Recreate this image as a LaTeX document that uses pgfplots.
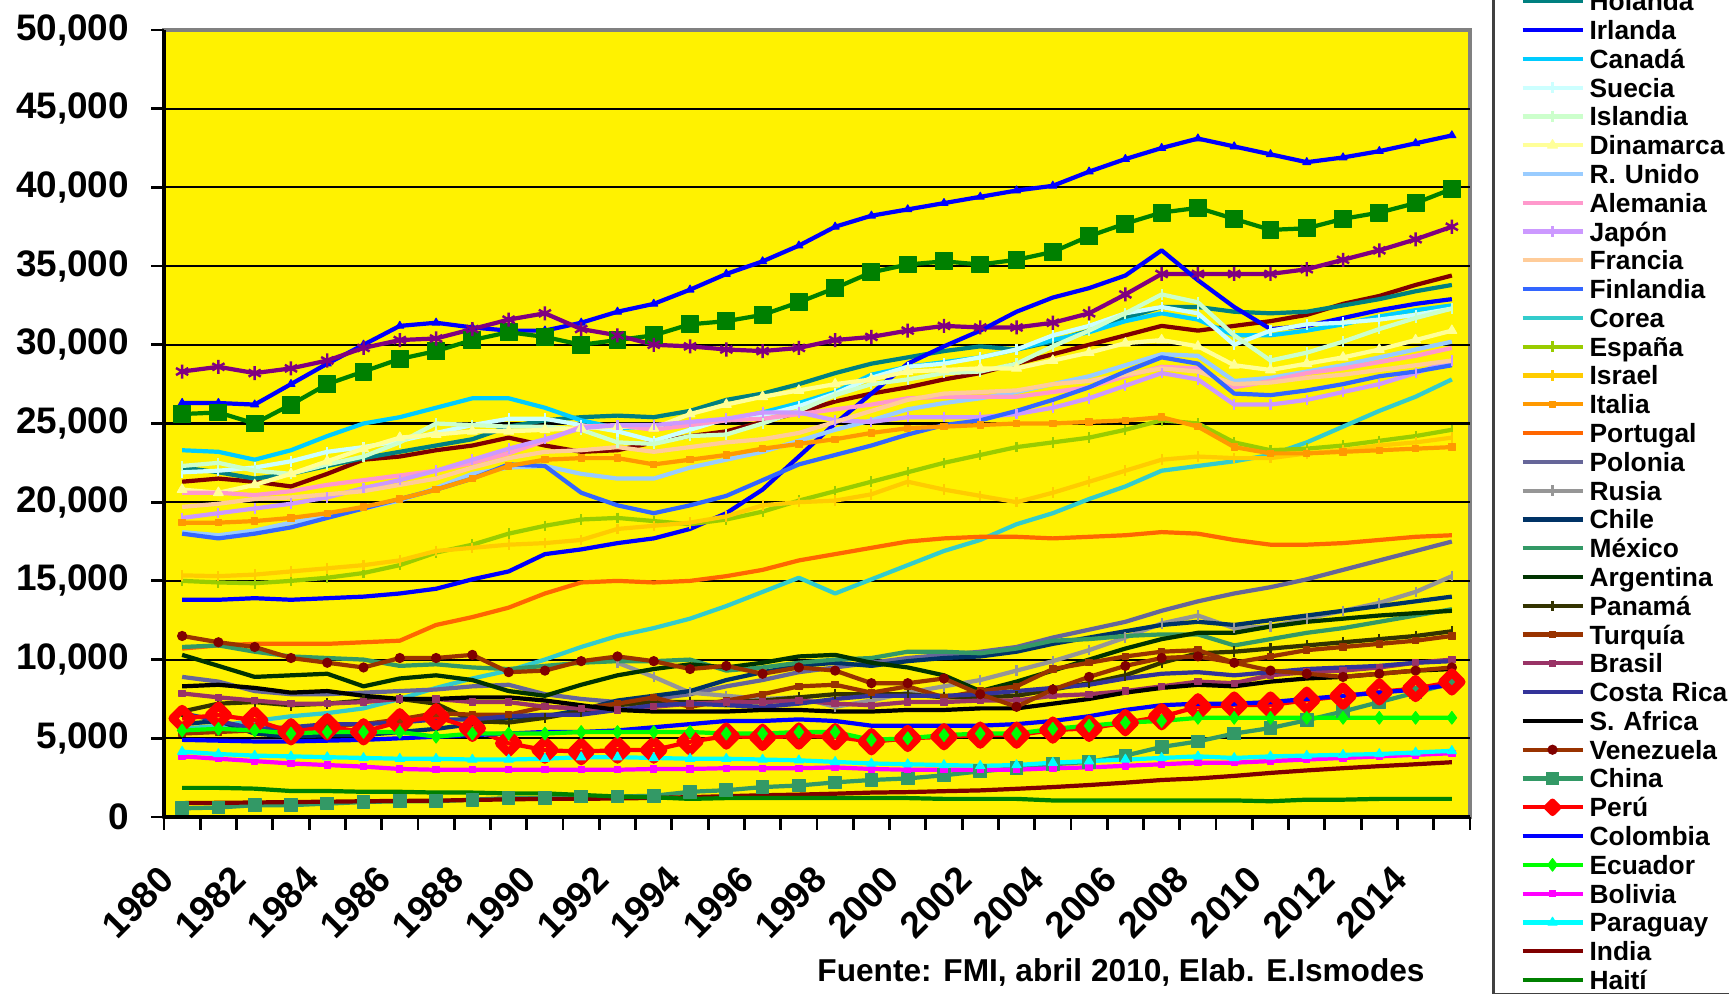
\documentclass[border=0pt]{standalone}
\usepackage{fontspec}
\setmainfont{Liberation Sans}
\usepackage{pgfplots}
\usepackage{pgfplotstable}
\pgfplotsset{compat=1.18}

% colours of the series
\definecolor{cUSA}{RGB}{0,0,255}
\definecolor{cGRN}{RGB}{0,128,0}
\definecolor{cPUR}{RGB}{128,0,128}
\definecolor{cMAR}{RGB}{128,0,0}
\definecolor{cHOL}{RGB}{0,128,128}
\definecolor{cIRL}{RGB}{0,0,255}
\definecolor{cCAN}{RGB}{0,204,255}
\definecolor{cSUE}{RGB}{204,255,255}
\definecolor{cISL}{RGB}{204,255,204}
\definecolor{cDIN}{RGB}{255,255,153}
\definecolor{cRUN}{RGB}{153,204,255}
\definecolor{cALE}{RGB}{255,153,204}
\definecolor{cJAP}{RGB}{204,153,255}
\definecolor{cFRA}{RGB}{255,204,153}
\definecolor{cFIN}{RGB}{51,102,255}
\definecolor{cCOR}{RGB}{51,204,204}
\definecolor{cESP}{RGB}{153,204,0}
\definecolor{cISR}{RGB}{255,204,0}
\definecolor{cITA}{RGB}{255,153,0}
\definecolor{cPOR}{RGB}{255,102,0}
\definecolor{cPOL}{RGB}{102,102,153}
\definecolor{cRUS}{RGB}{150,150,150}
\definecolor{cCHI}{RGB}{0,51,102}
\definecolor{cMEX}{RGB}{51,153,102}
\definecolor{cARG}{RGB}{0,51,0}
\definecolor{cPAN}{RGB}{51,51,0}
\definecolor{cTUR}{RGB}{153,51,0}
\definecolor{cBRA}{RGB}{153,51,102}
\definecolor{cCRI}{RGB}{51,51,153}
\definecolor{cSAF}{RGB}{0,0,0}
\definecolor{cCHN}{RGB}{51,153,102}
\definecolor{cPER}{RGB}{255,0,0}
\definecolor{cCOL}{RGB}{0,0,255}
\definecolor{cECU}{RGB}{0,255,0}
\definecolor{cBOL}{RGB}{255,0,255}
\definecolor{cPAR}{RGB}{0,255,255}
\definecolor{cIND}{RGB}{128,0,0}
\definecolor{cHAI}{RGB}{0,128,0}

% one row per series, one column per year
\pgfplotstableread{
name 1980 1981 1982 1983 1984 1985 1986 1987 1988 1989 1990 1991 1992 1993 1994 1995 1996 1997 1998 1999 2000 2001 2002 2003 2004 2005 2006 2007 2008 2009 2010 2011 2012 2013 2014 2015
usa 26300 26300 26200 27500 28800 30000 31200 31400 31100 30900 30900 31400 32100 32600 33500 34500 35300 36300 37500 38200 38600 39000 39400 39800 40100 41000 41800 42500 43100 42600 42100 41600 41900 42300 42800 43300
grn 25600 25700 25000 26200 27500 28300 29100 29600 30300 30800 30500 30000 30300 30600 31300 31500 31900 32700 33600 34600 35100 35300 35100 35400 35900 36900 37700 38400 38700 38000 37300 37400 38000 38400 39000 39900
pur 28300 28600 28200 28500 29000 29800 30300 30400 31000 31600 32000 31000 30600 30000 29900 29700 29600 29800 30300 30500 30900 31200 31100 31100 31400 32000 33200 34500 34500 34500 34500 34800 35400 36000 36700 37500
mar 21300 21500 21300 21000 21800 22700 22900 23300 23600 24100 23600 23200 23300 23800 24200 24500 25100 25700 26400 26900 27300 27800 28200 28800 29400 30000 30600 31200 30900 31200 31500 31900 32600 33100 33800 34400
hol 22200 21900 21500 21800 22300 22800 23200 23600 24000 24800 25200 25400 25500 25400 25800 26500 26900 27500 28200 28800 29200 29600 29900 29700 30200 30900 31700 32400 32400 32100 32000 32100 32500 32900 33400 33800
irl 13800 13800 13900 13800 13900 14000 14200 14500 15100 15600 16700 17000 17400 17700 18300 19300 20800 22900 25000 26900 28800 29900 30900 32100 33000 33600 34400 36000 34100 32400 31000 31200 31700 32200 32600 32900
can 23300 23200 22700 23300 24200 25000 25400 26000 26600 26600 26000 25200 24700 24800 25000 25200 25700 26300 27000 28100 28600 28900 29200 29700 30300 30800 31500 32000 31600 30600 30600 30900 31300 31800 32200 32500
sue 21900 22000 22200 22600 23200 23500 23900 24400 24900 25300 25300 24900 24500 23900 24600 25300 25500 26100 26900 27900 28600 28800 29200 29700 30600 31200 32000 32400 32000 30000 30900 31300 31400 31600 31900 32300
isl 22300 22500 22000 21800 22400 22900 23800 25000 24900 24800 24800 24600 23800 23700 24200 24300 25000 25800 26800 27500 27800 28200 28300 28800 29900 30900 32000 33200 32700 30600 29000 29500 30200 31000 31700 32300
din 20800 20600 21100 21800 22600 23400 24100 24300 24500 24500 24600 24700 24800 24700 25600 26200 26700 27100 27500 27800 28300 28400 28500 28500 29000 29500 30100 30300 29900 28700 28400 28800 29200 29700 30300 30900
run 18100 17900 18200 18700 19100 19600 20100 20900 21800 22200 22300 21800 21500 21500 22200 22700 23200 23900 24600 25200 25900 26300 26600 27000 27500 28000 28700 29400 29300 27700 27900 28300 28700 29200 29700 30200
ale 20600 20600 20450 20700 21100 21400 21700 22000 22500 23100 23900 24800 24900 24600 24900 25200 25300 25600 25900 26200 26600 26700 26700 26700 27000 27300 28000 28600 28500 27300 27700 28200 28500 28900 29300 29800
jap 19000 19300 19600 19900 20300 20900 21400 22000 22700 23400 24000 24700 24900 24900 25100 25300 25700 25700 25200 25100 25400 25400 25400 25600 26000 26600 27400 28200 27800 26200 26200 26500 27000 27500 28200 29000
fra 19700 19900 20200 20300 20500 20700 21100 21500 22200 22800 23200 23300 23500 23200 23500 23800 24000 24400 25100 25800 26500 26900 27000 27100 27500 27700 28100 28500 28300 27500 27600 27900 28100 28400 28700 29000
fin 18000 17700 18000 18400 19000 19600 20200 20800 21500 22400 22300 20600 19800 19300 19800 20400 21400 22400 23000 23600 24300 24900 25200 25800 26500 27300 28300 29200 28800 26900 26800 27100 27500 28000 28300 28700
cor 5600 5800 6100 6400 6600 6900 7500 8200 8800 9300 10000 10800 11500 12000 12600 13400 14300 15200 14200 15100 16000 16900 17600 18600 19300 20200 21000 22000 22300 22600 23000 23800 24800 25800 26700 27800
esp 15000 14900 14850 15000 15200 15500 16000 16800 17300 18000 18500 18900 19000 18800 18600 18900 19400 20100 20700 21300 21900 22500 23000 23500 23800 24100 24600 25200 25000 23800 23300 23400 23600 23900 24200 24600
isr 15350 15300 15400 15600 15800 16000 16300 16900 17100 17300 17400 17600 18300 18500 18700 19100 19800 20000 20100 20500 21300 20800 20400 20000 20600 21300 22000 22700 22900 22800 22800 23100 23300 23600 23800 24100
ita 18700 18700 18800 19000 19300 19700 20200 20800 21500 22300 22700 22800 22800 22400 22700 23000 23400 23700 24000 24400 24700 24800 24900 25000 25000 25100 25200 25400 24800 23500 23100 23100 23200 23300 23400 23500
por 10700 10900 11000 11000 11000 11100 11200 12200 12700 13300 14200 14900 15000 14900 15000 15300 15700 16300 16700 17100 17500 17700 17800 17800 17700 17800 17900 18100 18000 17600 17300 17300 17400 17600 17800 17900
pol 8900 8600 8000 7800 7800 7900 8000 8100 8300 8400 7800 7500 7300 7500 7800 8300 8700 9200 9500 9800 10100 10300 10500 10800 11400 11900 12400 13100 13700 14200 14600 15100 15700 16300 16900 17500
rus nan nan nan nan nan nan nan nan nan nan nan nan 9800 8900 7900 7700 7500 7600 7000 7400 7900 8300 8700 9300 9900 10600 11400 12300 12800 12000 12100 12600 13100 13600 14300 15300
chi 5900 6100 5300 5100 5200 5200 5400 5600 5900 6300 6400 6800 7400 7700 8000 8700 9200 9600 9800 9600 9900 10100 10200 10500 11000 11400 11800 12200 12400 12200 12500 12800 13100 13400 13700 14000
mex 10800 10900 10500 10200 10100 10000 9600 9700 9500 9400 9600 9800 9900 9900 10000 9300 9500 9800 10000 10100 10500 10500 10400 10700 11200 11300 11500 11600 11600 10900 11300 11700 12000 12400 12800 13200
arg 10300 9600 8900 9000 9100 8300 8800 9000 8700 8000 7700 8400 9000 9400 9700 9500 9800 10200 10300 9800 9500 9000 8000 8600 9300 10000 10700 11300 11700 11700 12100 12400 12600 12800 12950 13100
pan 6700 7200 7300 7100 7200 7400 7500 7200 6100 6000 6300 6700 7100 7300 7300 7300 7400 7600 7800 7800 7800 7600 7600 7700 8100 8500 9000 9800 10400 10500 10700 10900 11100 11300 11500 11800
tur 5300 5400 5500 5600 5800 5900 6200 6600 6500 6500 7000 6900 7200 7600 7000 7400 7800 8300 8400 7900 8300 7600 8000 8300 9400 9800 10200 10500 10600 9800 10200 10600 10800 11000 11200 11500
bra 7850 7600 7400 7200 7200 7300 7500 7500 7300 7300 7000 6900 6800 7000 7200 7300 7300 7400 7200 7100 7300 7300 7400 7400 7700 7800 8000 8300 8600 8500 9000 9200 9300 9500 9800 10000
cri 6600 6100 5600 5700 5900 5900 6000 6200 6200 6400 6500 6500 6800 7100 7200 7100 7000 7200 7500 7700 7700 7700 7800 8000 8200 8400 8800 9100 9200 9000 9200 9400 9500 9600 9800 9900
saf 8300 8400 8200 7900 8000 7700 7500 7500 7600 7600 7400 7100 6800 6700 6700 6700 6800 6800 6700 6700 6800 6800 6900 6900 7200 7500 7900 8200 8400 8300 8600 8800 8900 9100 9300 9400
ven 11500 11100 10800 10100 9800 9500 10100 10100 10300 9200 9300 9900 10200 9900 9400 9600 9100 9500 9300 8500 8500 8800 7800 7000 8100 8900 9600 10100 10200 9800 9300 9100 8900 9100 9300 9500
chn 550 600 750 750 850 950 1000 1000 1100 1200 1200 1300 1300 1350 1600 1700 1900 2000 2200 2350 2450 2650 2900 3100 3350 3500 3900 4450 4800 5300 5650 6150 6700 7300 7900 8500
per 6260 6470 6150 5410 5730 5410 6050 6370 5630 4680 4250 4150 4250 4250 4780 5140 5060 5140 5100 4780 4990 5100 5200 5200 5520 5630 5990 6370 7000 7110 7110 7420 7680 7950 8160 8580
col 4900 4850 4800 4800 4850 4900 5000 5100 5200 5300 5400 5400 5500 5700 5900 6100 6100 6200 6100 5800 5800 5800 5800 5900 6100 6400 6800 7100 7200 7200 7300 7500 7700 7900 8100 8400
ecu 5500 5600 5500 5300 5400 5400 5400 5100 5300 5300 5300 5400 5400 5400 5400 5300 5300 5400 5400 4900 5000 5200 5300 5300 5600 5800 6000 6100 6300 6300 6300 6300 6300 6300 6300 6300
bol 3850 3700 3550 3400 3300 3200 3050 3000 3000 3000 3000 3000 3000 3050 3050 3100 3100 3100 3150 3050 3000 3000 3000 3000 3100 3150 3250 3350 3450 3450 3550 3650 3750 3850 3950 4050
par 4150 4000 3900 3850 3800 3750 3700 3700 3650 3650 3700 3800 3800 3750 3700 3700 3650 3600 3500 3400 3350 3300 3250 3300 3450 3550 3650 3750 3850 3750 3850 3900 3950 4000 4100 4200
ind 880 900 920 950 970 1000 1020 1040 1080 1120 1150 1150 1180 1210 1260 1320 1380 1420 1480 1550 1580 1640 1690 1790 1900 2030 2180 2350 2450 2610 2800 2960 3100 3230 3350 3480
hai 1850 1850 1800 1650 1650 1600 1600 1550 1550 1500 1500 1400 1300 1250 1150 1200 1200 1200 1200 1200 1200 1150 1150 1150 1050 1050 1050 1050 1050 1050 1000 1100 1100 1150 1150 1150
}\rawdata
\pgfplotstabletranspose[colnames from=name]\gdp\rawdata

\pgfplotsset{
  ln/.style={line width=1.2pt, line join=round},
  bar/.style={mark=|, mark size=1.5pt, mark options={solid, line width=0.6pt}},
  sq/.style={mark=square*, mark size=0.9pt, mark options={solid, line width=0.3pt}},
  st-usa/.style={ln, cUSA, mark=triangle*, mark size=1.3pt, mark options={solid, line width=0.3pt}},
  st-grn/.style={ln, cGRN, mark=square*, mark size=2.4pt, mark options={solid, line width=0.3pt}},
  st-pur/.style={ln, cPUR, mark=asterisk, mark size=2pt, mark options={solid, line width=0.7pt}},
  st-mar/.style={ln, cMAR},
  st-hol/.style={ln, cHOL},
  st-irl/.style={ln, cIRL},
  st-can/.style={ln, cCAN},
  st-sue/.style={ln, cSUE, bar},
  st-isl/.style={ln, cISL, bar},
  st-din/.style={ln, cDIN, mark=triangle*, mark size=1.6pt, mark options={solid, line width=0.3pt}},
  st-run/.style={ln, cRUN},
  st-ale/.style={ln, cALE},
  st-jap/.style={ln, cJAP, bar},
  st-fra/.style={ln, cFRA},
  st-fin/.style={ln, cFIN},
  st-cor/.style={ln, cCOR},
  st-esp/.style={ln, cESP, bar},
  st-isr/.style={ln, cISR, bar},
  st-ita/.style={ln, cITA, sq},
  st-por/.style={ln, cPOR},
  st-pol/.style={ln, cPOL},
  st-rus/.style={ln, cRUS, bar},
  st-chi/.style={ln, cCHI},
  st-mex/.style={ln, cMEX},
  st-arg/.style={ln, cARG},
  st-pan/.style={ln, cPAN, bar},
  st-tur/.style={ln, cTUR, sq},
  st-bra/.style={ln, cBRA, sq},
  st-cri/.style={ln, cCRI},
  st-saf/.style={ln, cSAF},
  st-ven/.style={ln, cTUR, mark=*, mark size=1.3pt, mark options={solid, line width=0.3pt, draw=cMAR, fill=cMAR}},
  st-chn/.style={ln, cCHN, mark=square*, mark size=1.8pt, mark options={solid, line width=0.3pt}},
  st-per/.style={ln, cPER, mark=square, mark size=1.9pt, mark options={solid, rotate=45, line width=2.4pt, draw=cPER, fill=none}},
  st-col/.style={ln, cCOL},
  st-ecu/.style={ln, cECU, mark=diamond*, mark size=1.8pt, mark options={solid, line width=0.3pt}},
  st-bol/.style={ln, cBOL, sq},
  st-par/.style={ln, cPAR, mark=triangle*, mark size=1.5pt, mark options={solid, line width=0.3pt}},
  st-ind/.style={ln, cIND},
  st-hai/.style={ln, cHAI},
}

\begin{document}
\begin{tikzpicture}
\useasboundingbox (0,0) rectangle (172.9mm,99.4mm);
\clip (0,0) rectangle (172.9mm,99.4mm);
\begin{axis}[
  at={(16.4mm,17.7mm)}, anchor=south west,
  scale only axis, width=130.6mm, height=78.7mm,
  xmin=1979.5, xmax=2015.5, ymin=0, ymax=50000,
  axis x line*=bottom, axis y line*=left,
  axis line style={-, black, line width=0.9pt},
  every outer x axis line/.append style={-},
  every outer y axis line/.append style={-},
  axis background/.style={fill=yellow, draw=gray, line width=0.9pt},
  tick align=outside,
  major tick length=1.27mm, minor tick length=1.27mm,
  xtick={1980,1982,...,2014},
  xticklabels={1980,1982,1984,1986,1988,1990,1992,1994,1996,1998,2000,2002,2004,2006,2008,2010,2012,2014},
  major x tick style={draw=none},
  minor xtick={1979.5,1980.5,...,2015.5},
  minor x tick style={black, line width=0.8pt},
  ytick={0,5000,...,50000},
  major y tick style={black, line width=0.8pt},
  extra y ticks={5000,10000,...,45000},
  extra y tick labels={},
  extra y tick style={grid=major},
  y grid style={black, line width=0.6pt},
  scaled y ticks=false,
  yticklabel style={/pgf/number format/.cd, fixed, 1000 sep={,}, assume math mode=true, /tikz/.cd,
    font=\fontsize{10.5}{12}\selectfont\bfseries, xshift=-1mm},
  xticklabel style={font=\fontsize{10.5}{12}\selectfont\bfseries, inner sep=0pt,
    xshift=-1.5mm, yshift=-4.3mm, anchor=east, rotate=45},
  legend cell align=left,
  legend style={at={(1.01685,1.0565)}, anchor=north west,
    draw=black!75, line width=0.8pt, fill=white,
    inner xsep=2.7mm, inner ysep=0pt, row sep=0pt, column sep=0.5mm,
    font=\fontsize{7.5}{9}\selectfont\bfseries,
    nodes={inner sep=0pt, text height=6.78pt, text depth=1.41pt, text width=16mm, align=left}},
]
% lines first
\pgfplotsinvokeforeach{usa,grn,pur,mar,hol,irl,can,sue,isl,din,run,ale,jap,fra,fin,cor,esp,isr,ita,por,pol,rus,chi,mex,arg,pan,tur,bra,cri,saf,ven,chn,per,col,ecu,bol,par,ind,hai}{
  \addplot[st-#1, mark=none, forget plot] table[x=colnames, y=#1]{\gdp};
}
% then the markers on top
\pgfplotsinvokeforeach{usa,grn,pur,sue,isl,din,jap,esp,isr,ita,rus,pan,tur,bra,ven,chn,per,ecu,bol,par}{
  \addplot[st-#1, only marks, forget plot] table[x=colnames, y=#1]{\gdp};
}
\addlegendimage{st-hol}\addlegendentry{Holanda}
\addlegendimage{st-irl}\addlegendentry{Irlanda}
\addlegendimage{st-can}\addlegendentry{Canadá}
\addlegendimage{st-sue}\addlegendentry{Suecia}
\addlegendimage{st-isl}\addlegendentry{Islandia}
\addlegendimage{st-din}\addlegendentry{Dinamarca}
\addlegendimage{st-run}\addlegendentry{R. Unido}
\addlegendimage{st-ale}\addlegendentry{Alemania}
\addlegendimage{st-jap}\addlegendentry{Japón}
\addlegendimage{st-fra}\addlegendentry{Francia}
\addlegendimage{st-fin}\addlegendentry{Finlandia}
\addlegendimage{st-cor}\addlegendentry{Corea}
\addlegendimage{st-esp}\addlegendentry{España}
\addlegendimage{st-isr}\addlegendentry{Israel}
\addlegendimage{st-ita}\addlegendentry{Italia}
\addlegendimage{st-por}\addlegendentry{Portugal}
\addlegendimage{st-pol}\addlegendentry{Polonia}
\addlegendimage{st-rus}\addlegendentry{Rusia}
\addlegendimage{st-chi}\addlegendentry{Chile}
\addlegendimage{st-mex}\addlegendentry{México}
\addlegendimage{st-arg}\addlegendentry{Argentina}
\addlegendimage{st-pan}\addlegendentry{Panamá}
\addlegendimage{st-tur}\addlegendentry{Turquía}
\addlegendimage{st-bra}\addlegendentry{Brasil}
\addlegendimage{st-cri}\addlegendentry{Costa Rica}
\addlegendimage{st-saf}\addlegendentry{S. Africa}
\addlegendimage{st-ven}\addlegendentry{Venezuela}
\addlegendimage{st-chn}\addlegendentry{China}
\addlegendimage{st-per, mark size=1.2pt, mark options={solid, rotate=45, line width=1.6pt, draw=cPER, fill=none}}\addlegendentry{Perú}
\addlegendimage{st-col}\addlegendentry{Colombia}
\addlegendimage{st-ecu}\addlegendentry{Ecuador}
\addlegendimage{st-bol}\addlegendentry{Bolivia}
\addlegendimage{st-par}\addlegendentry{Paraguay}
\addlegendimage{st-ind}\addlegendentry{India}
\addlegendimage{st-hai}\addlegendentry{Haití}
\end{axis}
\node[font=\fontsize{9}{11}\selectfont\bfseries] at (112.1mm,2.1mm) {Fuente: FMI, abril 2010, Elab. E.Ismodes};
\end{tikzpicture}
\end{document}
